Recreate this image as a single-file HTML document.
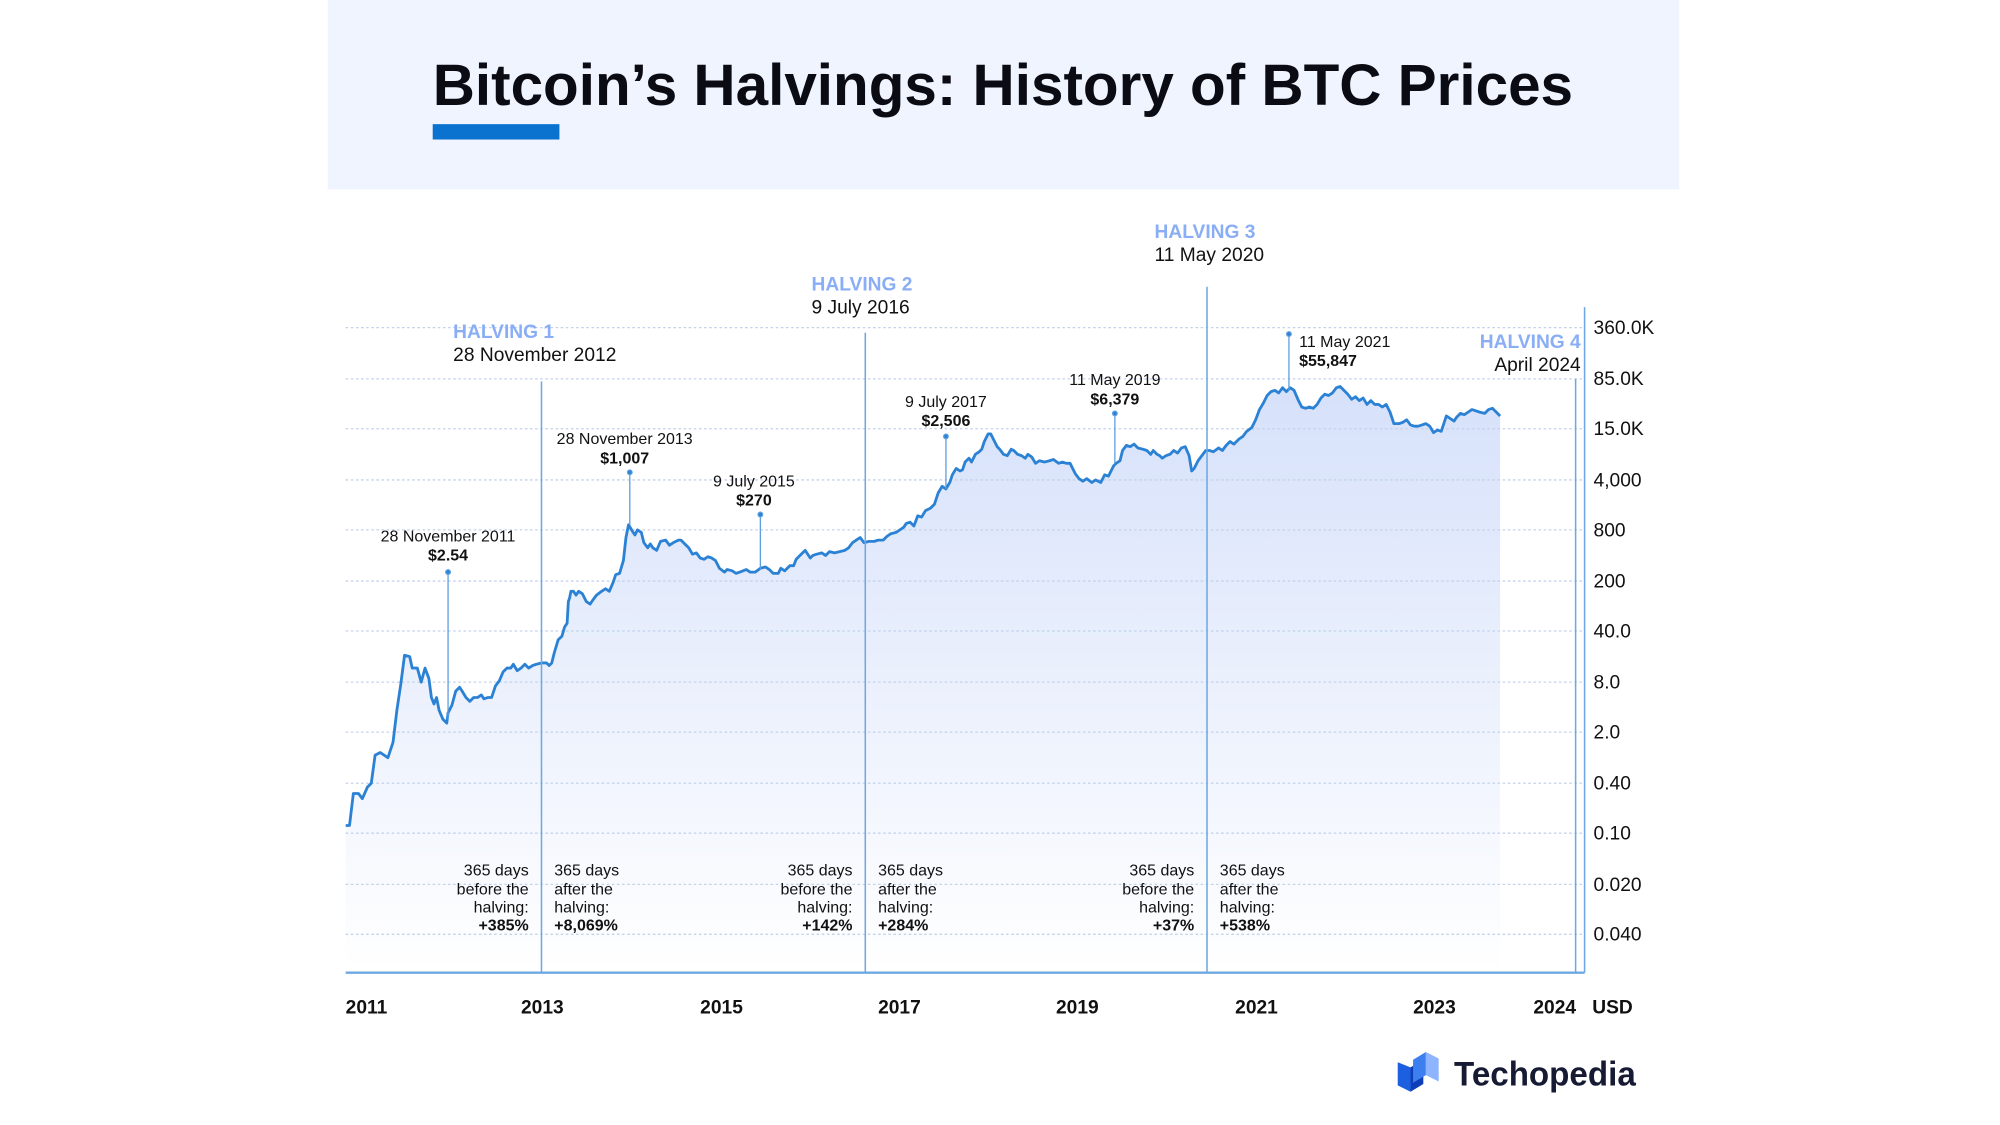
<!DOCTYPE html>
<html><head><meta charset="utf-8"><style>
html,body{margin:0;padding:0;background:#fff;}
svg{display:block;font-family:"Liberation Sans",sans-serif;}
</style></head><body>
<svg width="2000" height="1125" viewBox="0 0 1562.5 879" xmlns="http://www.w3.org/2000/svg">
<defs>
<linearGradient id="g" x1="0" y1="0" x2="0" y2="1">
<stop offset="0" stop-color="#d6e1fa"/><stop offset="1" stop-color="#ffffff"/>
</linearGradient>
</defs>
<rect x="256" y="0" width="1056" height="148" fill="#eff4fe"/>
<text x="338" y="82" font-size="46" font-weight="bold" fill="#0b0b14" textLength="891" lengthAdjust="spacingAndGlyphs">Bitcoin’s Halvings: History of BTC Prices</text>
<rect x="338" y="97" width="99" height="12" fill="#0a72cf"/>

<path fill="url(#g)" stroke="none" d="M270,645 L273,645 276,620 280,620 283,624 287,615 290,612 293,590 297,588 303,592 307,580 310,555 313,535 316,512 320,513 322,522 326,522 329,533 332,522 335,530 337,545 339,550 341,545 343,555 346,562 349,565 350,557 353,551 356,540 359,537 361,540 364,545 367,548 370,545 373,545 376,543 378,546 381,545 384,545 387,536 390,532 393,525 396,522 399,522 401,519 404,524 407,522 410,519 413,522 416,520 419,519 423,518 427,518 429,520 431,518 433,510 436,500 439,497 441,490 443,487 444,470 445,467 446,462 448,462 450,465 452,462 455,464 458,470 461,472 463,469 466,465 470,462 473,460 476,462 479,455 481,449 484,448 487,438 489,420 491,410 494,415 496,418 498,414 501,416 503,424 506,428 508,425 510,428 513,430 516,423 520,422 523,426 526,424 530,422 532,422 535,425 538,428 541,433 544,432 547,436 550,437 553,435 556,436 559,438 562,444 566,447 568,445 572,446 575,448 578,447 583,445 586,447 590,447 594,444 598,443 601,445 604,448 608,448 610,444 613,446 617,442 620,442 622,437 626,433 629,430 633,436 635,434 638,433 642,432 645,434 648,431 652,432 656,431 660,430 663,428 666,424 669,422 672,420 675,424 679,423 683,423 686,422 690,422 693,419 696,417 700,416 703,414 706,412 708,409 711,408 714,411 717,403 720,404 723,399 727,397 730,394 733,385 736,380 739,382 742,377 744,371 747,366 750,368 752,367 754,361 757,358 759,361 762,355 765,353 767,351 769,345 772,339 774,339 777,345 779,349 781,351 784,355 787,356 790,351 792,352 795,355 798,356 801,358 803,355 806,357 809,362 812,360 816,361 820,360 823,359 827,362 830,361 833,362 836,362 840,370 843,374 846,376 849,374 853,377 856,375 860,377 863,371 866,372 868,368 870,364 872,362 875,360 877,352 880,348 883,349 886,347 889,350 893,351 896,352 899,355 901,352 904,355 906,356 908,358 911,356 914,355 917,352 920,354 923,350 926,349 929,356 931,368 933,366 936,360 939,356 942,352 945,352 948,353 952,350 955,352 958,348 961,345 964,347 968,343 971,341 974,337 978,334 981,328 984,320 987,315 990,309 993,306 996,305 999,307 1002,303 1005,306 1008,303 1011,305 1014,312 1017,318 1020,319 1023,318 1026,319 1029,316 1032,311 1035,308 1038,309 1041,307 1044,303 1047,302 1050,305 1053,308 1056,312 1059,310 1062,313 1065,311 1068,316 1071,313 1074,316 1077,316 1080,318 1083,316 1086,322 1089,331 1093,331 1096,330 1099,328 1102,332 1105,333 1108,333 1111,332 1114,331 1117,333 1120,338 1123,336 1126,337 1128,331 1130,325 1133,327 1136,329 1138,326 1141,323 1144,324 1147,322 1150,320 1153,321 1156,322 1160,323 1163,320 1166,319 1169,322 1172,325 L1172,760 L270,760 Z"/>

<g stroke="#c3d2ec" stroke-width="1" stroke-dasharray="2,2">
<line x1="270" x2="1238" y1="256" y2="256"/><line x1="270" x2="1238" y1="296" y2="296"/>
<line x1="270" x2="1238" y1="335" y2="335"/><line x1="270" x2="1238" y1="375" y2="375"/>
<line x1="270" x2="1238" y1="414" y2="414"/><line x1="270" x2="1238" y1="454" y2="454"/>
<line x1="270" x2="1238" y1="493" y2="493"/><line x1="270" x2="1238" y1="533" y2="533"/>
<line x1="270" x2="1238" y1="572" y2="572"/><line x1="270" x2="1238" y1="612" y2="612"/>
<line x1="270" x2="1238" y1="651" y2="651"/><line x1="270" x2="1238" y1="691" y2="691"/>
<line x1="270" x2="1238" y1="730" y2="730"/>
</g>

<polyline fill="none" stroke="#2b82d4" stroke-width="2.2" stroke-linejoin="round" points="270,645 273,645 276,620 280,620 283,624 287,615 290,612 293,590 297,588 303,592 307,580 310,555 313,535 316,512 320,513 322,522 326,522 329,533 332,522 335,530 337,545 339,550 341,545 343,555 346,562 349,565 350,557 353,551 356,540 359,537 361,540 364,545 367,548 370,545 373,545 376,543 378,546 381,545 384,545 387,536 390,532 393,525 396,522 399,522 401,519 404,524 407,522 410,519 413,522 416,520 419,519 423,518 427,518 429,520 431,518 433,510 436,500 439,497 441,490 443,487 444,470 445,467 446,462 448,462 450,465 452,462 455,464 458,470 461,472 463,469 466,465 470,462 473,460 476,462 479,455 481,449 484,448 487,438 489,420 491,410 494,415 496,418 498,414 501,416 503,424 506,428 508,425 510,428 513,430 516,423 520,422 523,426 526,424 530,422 532,422 535,425 538,428 541,433 544,432 547,436 550,437 553,435 556,436 559,438 562,444 566,447 568,445 572,446 575,448 578,447 583,445 586,447 590,447 594,444 598,443 601,445 604,448 608,448 610,444 613,446 617,442 620,442 622,437 626,433 629,430 633,436 635,434 638,433 642,432 645,434 648,431 652,432 656,431 660,430 663,428 666,424 669,422 672,420 675,424 679,423 683,423 686,422 690,422 693,419 696,417 700,416 703,414 706,412 708,409 711,408 714,411 717,403 720,404 723,399 727,397 730,394 733,385 736,380 739,382 742,377 744,371 747,366 750,368 752,367 754,361 757,358 759,361 762,355 765,353 767,351 769,345 772,339 774,339 777,345 779,349 781,351 784,355 787,356 790,351 792,352 795,355 798,356 801,358 803,355 806,357 809,362 812,360 816,361 820,360 823,359 827,362 830,361 833,362 836,362 840,370 843,374 846,376 849,374 853,377 856,375 860,377 863,371 866,372 868,368 870,364 872,362 875,360 877,352 880,348 883,349 886,347 889,350 893,351 896,352 899,355 901,352 904,355 906,356 908,358 911,356 914,355 917,352 920,354 923,350 926,349 929,356 931,368 933,366 936,360 939,356 942,352 945,352 948,353 952,350 955,352 958,348 961,345 964,347 968,343 971,341 974,337 978,334 981,328 984,320 987,315 990,309 993,306 996,305 999,307 1002,303 1005,306 1008,303 1011,305 1014,312 1017,318 1020,319 1023,318 1026,319 1029,316 1032,311 1035,308 1038,309 1041,307 1044,303 1047,302 1050,305 1053,308 1056,312 1059,310 1062,313 1065,311 1068,316 1071,313 1074,316 1077,316 1080,318 1083,316 1086,322 1089,331 1093,331 1096,330 1099,328 1102,332 1105,333 1108,333 1111,332 1114,331 1117,333 1120,338 1123,336 1126,337 1128,331 1130,325 1133,327 1136,329 1138,326 1141,323 1144,324 1147,322 1150,320 1153,321 1156,322 1160,323 1163,320 1166,319 1169,322 1172,325"/>

<g stroke="#6ea8e2" stroke-width="1.2">
<line x1="423" y1="298" x2="423" y2="760"/>
<line x1="676" y1="260" x2="676" y2="760"/>
<line x1="943" y1="224" x2="943" y2="760"/>
<line x1="1231" y1="296" x2="1231" y2="760"/>
<line x1="1238" y1="240" x2="1238" y2="760"/>
<line x1="270" y1="760" x2="1238" y2="760" stroke-width="1.8"/>
</g>
<g stroke="#5a9ee0" stroke-width="1" fill="#2b82d4">
<line x1="350" y1="447" x2="350" y2="562"/><circle cx="350" cy="447" r="1.8"/>
<line x1="492" y1="369" x2="492" y2="410"/><circle cx="492" cy="369" r="1.8"/>
<line x1="594" y1="402" x2="594" y2="445"/><circle cx="594" cy="402" r="1.8"/>
<line x1="739" y1="341" x2="739" y2="382"/><circle cx="739" cy="341" r="1.8"/>
<line x1="871" y1="323" x2="871" y2="362"/><circle cx="871" cy="323" r="1.8"/>
<line x1="1007" y1="261" x2="1007" y2="305"/><circle cx="1007" cy="261" r="1.8"/>
</g>

<g font-size="12.5" fill="#111" text-anchor="middle">
<text x="350" y="423">28 November 2011</text><text x="350" y="438" font-weight="bold">$2.54</text>
<text x="488" y="347">28 November 2013</text><text x="488" y="362" font-weight="bold">$1,007</text>
<text x="589" y="380">9 July 2015</text><text x="589" y="395" font-weight="bold">$270</text>
<text x="739" y="318">9 July 2017</text><text x="739" y="333" font-weight="bold">$2,506</text>
<text x="871" y="301">11 May 2019</text><text x="871" y="316" font-weight="bold">$6,379</text>
<text x="1015" y="271" text-anchor="start">11 May 2021</text><text x="1015" y="286" text-anchor="start" font-weight="bold">$55,847</text>
</g>

<g font-size="12.5" fill="#111">
<g text-anchor="end">
<text x="413" y="684">365 days</text><text x="413" y="699">before the</text><text x="413" y="713">halving:</text><text x="413" y="727" font-weight="bold">+385%</text>
<text x="666" y="684">365 days</text><text x="666" y="699">before the</text><text x="666" y="713">halving:</text><text x="666" y="727" font-weight="bold">+142%</text>
<text x="933" y="684">365 days</text><text x="933" y="699">before the</text><text x="933" y="713">halving:</text><text x="933" y="727" font-weight="bold">+37%</text>
</g>
<text x="433" y="684">365 days</text><text x="433" y="699">after the</text><text x="433" y="713">halving:</text><text x="433" y="727" font-weight="bold">+8,069%</text>
<text x="686" y="684">365 days</text><text x="686" y="699">after the</text><text x="686" y="713">halving:</text><text x="686" y="727" font-weight="bold">+284%</text>
<text x="953" y="684">365 days</text><text x="953" y="699">after the</text><text x="953" y="713">halving:</text><text x="953" y="727" font-weight="bold">+538%</text>
</g>

<g font-size="15">
<text x="354" y="264" fill="#8aaef5" font-weight="bold">HALVING 1</text><text x="354" y="282" fill="#111">28 November 2012</text>
<text x="634" y="227" fill="#8aaef5" font-weight="bold">HALVING 2</text><text x="634" y="245" fill="#111">9 July 2016</text>
<text x="902" y="186" fill="#8aaef5" font-weight="bold">HALVING 3</text><text x="902" y="204" fill="#111">11 May 2020</text>
<text x="1235" y="272" fill="#8aaef5" font-weight="bold" text-anchor="end">HALVING 4</text><text x="1235" y="290" fill="#111" text-anchor="end">April 2024</text>
</g>

<g font-size="15" fill="#111">
<text x="1245" y="261">360.0K</text><text x="1245" y="301">85.0K</text><text x="1245" y="340">15.0K</text>
<text x="1245" y="380">4,000</text><text x="1245" y="419">800</text><text x="1245" y="459">200</text>
<text x="1245" y="498">40.0</text><text x="1245" y="538">8.0</text><text x="1245" y="577">2.0</text>
<text x="1245" y="617">0.40</text><text x="1245" y="656">0.10</text><text x="1245" y="696">0.020</text>
<text x="1245" y="735">0.040</text>
</g>
<g font-size="15" font-weight="bold" fill="#111">
<text x="270" y="792">2011</text><text x="407" y="792">2013</text><text x="547" y="792">2015</text>
<text x="686" y="792">2017</text><text x="825" y="792">2019</text><text x="965" y="792">2021</text>
<text x="1104" y="792">2023</text><text x="1198" y="792">2024</text><text x="1244" y="792">USD</text>
</g>

<g>
<polygon points="1092,830 1102,834 1102,853 1092,848" fill="#1c5fe0"/>
<polygon points="1102,834 1112,828 1112,847 1102,853" fill="#0f3fb8"/>
<polygon points="1104,828 1114,822 1114,840 1104,846" fill="#3e7ff0"/>
<polygon points="1114,822 1124,827 1124,845 1114,840" fill="#8fb4ff"/>
</g>
<text x="1136" y="848" font-size="27" font-weight="bold" fill="#161a33" textLength="142" lengthAdjust="spacingAndGlyphs">Techopedia</text>
</svg>
</body></html>
